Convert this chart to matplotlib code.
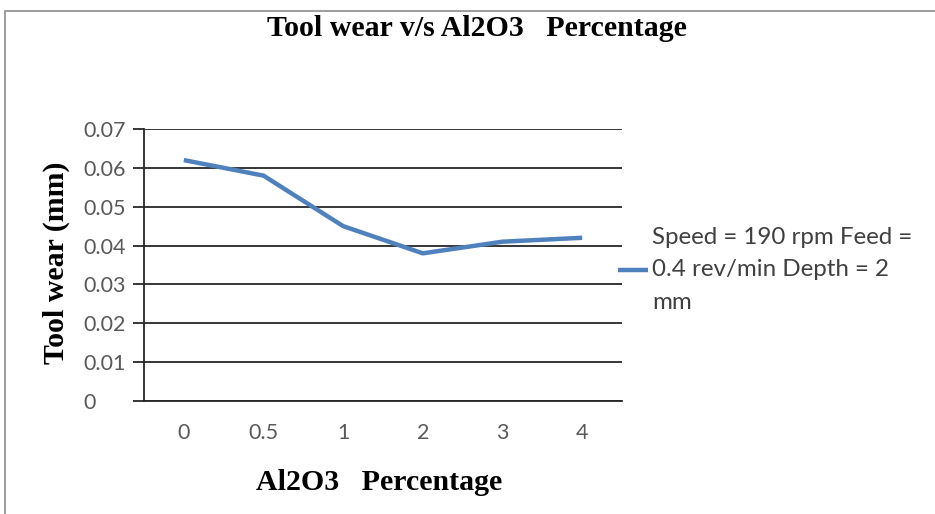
import matplotlib.pyplot as plt
from matplotlib.patches import Rectangle

# data
categories = ["0", "0.5", "1", "2", "3", "4"]
tool_wear = [0.062, 0.058, 0.045, 0.038, 0.041, 0.042]
yticks = [0, 0.01, 0.02, 0.03, 0.04, 0.05, 0.06, 0.07]
ytick_labels = ["0", "0.01", "0.02", "0.03", "0.04", "0.05", "0.06", "0.07"]
series_label = "Speed = 190 rpm Feed =\n0.4 rev/min Depth = 2\nmm"

W, H = 935, 514
fig = plt.figure(figsize=(W / 100, H / 100), dpi=100)

# outer chart frame (runs off the right and bottom edges)
fig.patches.append(Rectangle((5 / W, -0.1), 1.2, 1 - 11 / H + 0.1,
                             transform=fig.transFigure, fill=False,
                             edgecolor="#8c8c8c", linewidth=1.2))

ax = fig.add_axes([144 / W, 1 - 401 / H, (622 - 144) / W, (401 - 129) / H])

x = list(range(len(categories)))
ax.plot(x, tool_wear, color="#4f81bd", linewidth=3.2, solid_capstyle="butt",
        label=series_label)

ax.set_xlim(-0.5, len(categories) - 0.5)
ax.set_ylim(0, 0.07)
ax.set_xticks(x)
ax.set_xticklabels(categories)
ax.set_yticks(yticks)
ax.set_yticklabels(ytick_labels, ha="left")

ax.yaxis.grid(True, color="#262626", linewidth=1.3)
ax.set_axisbelow(True)
for s in ["top", "right"]:
    ax.spines[s].set_visible(False)
ax.spines["left"].set_color("#262626")
ax.spines["bottom"].set_color("#262626")
ax.spines["left"].set_linewidth(1.3)
ax.spines["bottom"].set_linewidth(1.3)

ax.tick_params(axis="y", length=8, width=1.3, color="#262626", pad=36,
               labelsize=15.5, labelcolor="#595959")
ax.tick_params(axis="x", length=0, pad=16, labelsize=15.5, labelcolor="#595959")
for t in ax.get_xticklabels() + ax.get_yticklabels():
    t.set_family("Lato")

serif = "Liberation Serif"
fig.text(477 / W, 1 - 28 / H, "Tool wear v/s Al2O3   Percentage", ha="center",
         va="center", fontsize=21.5, fontweight="bold", family=serif)
fig.text(56 / W, 1 - 263 / H, "Tool wear (mm)", ha="center", va="center",
         rotation=90, fontsize=21.5, fontweight="bold", family=serif)
fig.text(379 / W, 1 - 482 / H, "Al2O3   Percentage", ha="center", va="center",
         fontsize=21.5, fontweight="bold", family=serif)

leg = fig.legend(loc="center left", bbox_to_anchor=(618 / W, 1 - 270 / H),
                 frameon=False, borderpad=0, borderaxespad=0, handlelength=1.25,
                 handletextpad=0.15, prop={"family": "Lato", "size": 17.4})
for t in leg.get_texts():
    t.set_color("#404040")
    t.set_linespacing(1.65)

fig.savefig("out.png", dpi=100, facecolor="white")
